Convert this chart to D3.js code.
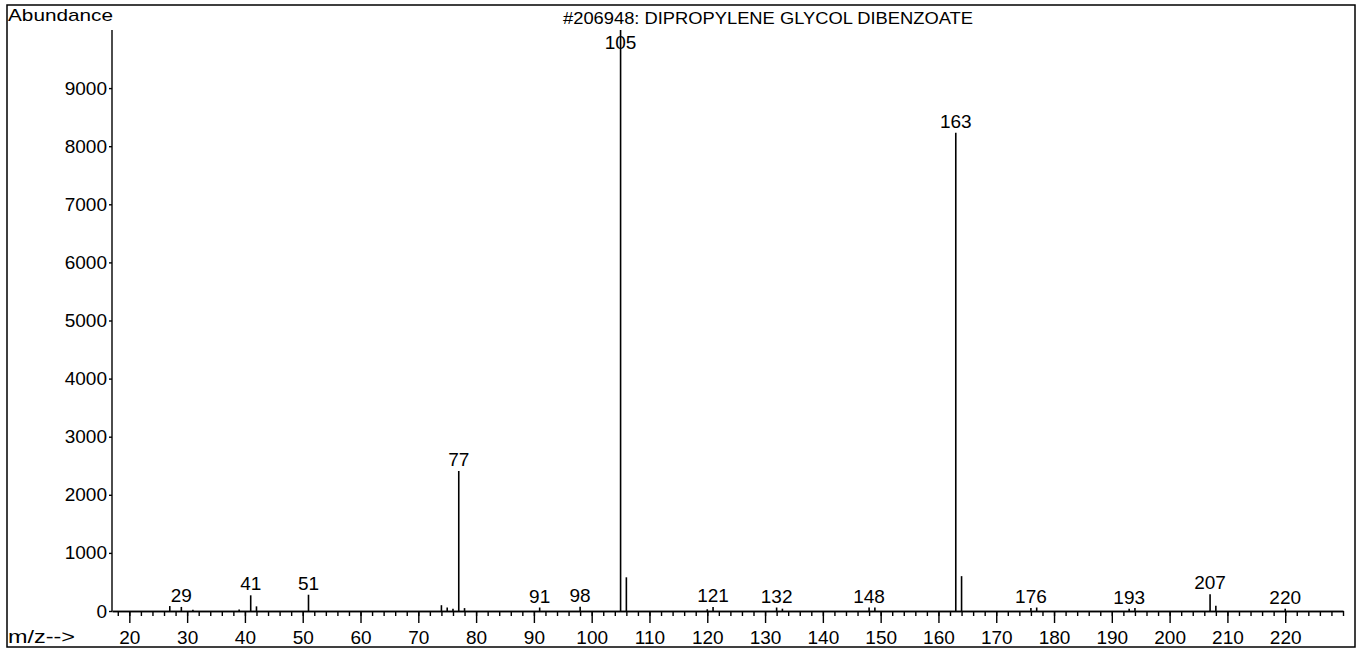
<!DOCTYPE html>
<html>
<head>
<meta charset="utf-8">
<script src="https://cdn.jsdelivr.net/npm/d3@7"></script>
<style>
  html, body { margin: 0; padding: 0; background: #fff; }
  svg { display: block; }
  text { font-family: "Liberation Sans", Arial, sans-serif; fill: #000; }
</style>
</head>
<body>
<svg id="chart" width="1364" height="654"></svg>
<script>
// ---- data ----
const title = "#206948: DIPROPYLENE GLYCOL DIBENZOATE";
const yTitle = "Abundance";
const xTitle = "m/z-->";
const mzValues = [27, 29, 31, 39, 41, 42, 51, 74, 75, 76, 77, 78, 91, 98, 105, 106, 120, 121, 132, 133, 148, 149, 163, 164, 176, 177, 193, 194, 207, 208, 220];
const abundances = [85, 70, 20, 25, 270, 80, 280, 100, 60, 40, 2410, 50, 60, 75, 9999, 580, 30, 70, 60, 40, 60, 60, 8230, 600, 50, 60, 40, 50, 290, 90, 40];
const labeledPeaks = [29, 41, 51, 77, 91, 98, 105, 121, 132, 148, 163, 176, 193, 207, 220];
const yTickValues = [0, 1000, 2000, 3000, 4000, 5000, 6000, 7000, 8000, 9000];
const xMajorTicks = [20, 30, 40, 50, 60, 70, 80, 90, 100, 110, 120, 130, 140, 150, 160, 170, 180, 190, 200, 210, 220];
const xMinorTicks = d3.range(18, 231, 2);
const xDomain = [17, 230];
const yDomain = [0, 10000];

// ---- layout ----
const svg = d3.select("#chart");
const plotLeft = 112, plotRight = 1343, plotTop = 30, plotBottom = 611;

const x = d3.scaleLinear().domain(xDomain).range([plotLeft, plotRight]);
const y = d3.scaleLinear().domain(yDomain).range([plotBottom, plotTop]);

// outer frame
svg.append("rect")
  .attr("x", 7).attr("y", 5).attr("width", 1348).attr("height", 642)
  .attr("fill", "none").attr("stroke", "#000").attr("stroke-width", 1.5);

// title
svg.append("text")
  .attr("x", 768).attr("y", 24)
  .attr("text-anchor", "middle")
  .attr("font-size", 17)
  .attr("textLength", 410).attr("lengthAdjust", "spacingAndGlyphs")
  .text(title);

svg.append("text")
  .attr("x", 8).attr("y", 21)
  .attr("font-size", 17)
  .attr("textLength", 105).attr("lengthAdjust", "spacingAndGlyphs")
  .text(yTitle);

svg.append("text")
  .attr("x", 8).attr("y", 643)
  .attr("font-size", 18)
  .attr("textLength", 67).attr("lengthAdjust", "spacingAndGlyphs")
  .text(xTitle);

// x axis: minor ticks
const gMinor = svg.append("g").attr("transform", `translate(0,${plotBottom})`)
  .call(d3.axisBottom(x).tickValues(xMinorTicks).tickSize(5).tickSizeOuter(0).tickFormat(""));
// x axis: major ticks with labels
const gMajor = svg.append("g").attr("transform", `translate(0,${plotBottom})`)
  .call(d3.axisBottom(x).tickValues(xMajorTicks).tickSize(12).tickSizeOuter(0).tickPadding(8).tickFormat(d3.format("d")));
[gMinor, gMajor].forEach(g => {
  g.selectAll("path, line").attr("stroke", "#000").attr("stroke-width", 1.4);
  g.selectAll("text").attr("font-size", 19).attr("font-family", "Liberation Sans, Arial, sans-serif");
});

// y axis
const gY = svg.append("g").attr("transform", `translate(${plotLeft},0)`)
  .call(d3.axisLeft(y).tickValues(yTickValues).tickSize(3).tickSizeOuter(0).tickPadding(2).tickFormat(d3.format("d")));
gY.select("path").attr("d", `M0,${y(yDomain[1])}V${plotBottom}`);
gY.selectAll("path, line").attr("stroke", "#000").attr("stroke-width", 1.4);
gY.selectAll("text").attr("font-size", 19).attr("font-family", "Liberation Sans, Arial, sans-serif");

// peaks
const peaks = mzValues.map((m, i) => ({ m, v: abundances[i] }));
svg.append("g").selectAll("line").data(peaks).join("line")
  .attr("x1", d => x(d.m)).attr("x2", d => x(d.m))
  .attr("y1", plotBottom).attr("y2", d => y(d.v))
  .attr("stroke", "#000").attr("stroke-width", 1.6);

// peak labels
svg.append("g").selectAll("text").data(peaks.filter(d => labeledPeaks.includes(d.m))).join("text")
  .attr("x", d => x(d.m))
  .attr("y", d => Math.max(y(d.v) - 5, 49))
  .attr("text-anchor", "middle")
  .attr("font-size", 19)
  .text(d => d.m);
</script>
</body>
</html>
